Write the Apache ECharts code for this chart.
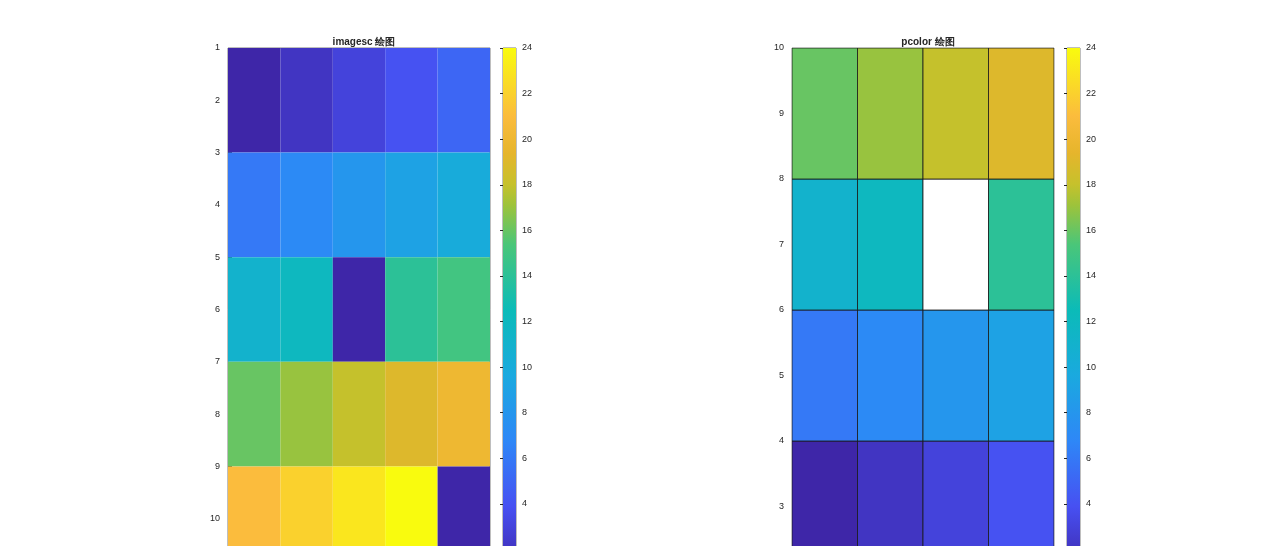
<!DOCTYPE html>
<html>
<head>
<meta charset="utf-8">
<script src="https://cdn.jsdelivr.net/npm/echarts@6/dist/echarts.min.js"></script>
<style>html,body{margin:0;padding:0;background:#fff;overflow:hidden}#main{width:1280px;height:640px}</style>
</head>
<body>
<div id="main"></div>
<script>
// matrix values, row by row (null = NaN)
var matRows = [
  [1, 2, 3, 4, 5],
  [6, 7, 8, 9, 10],
  [11, 12, null, 14, 15],
  [16, 17, 18, 19, 20],
  [21, 22, 23, 24, null]
];
var imgRowY = [1, 3, 5, 7, 9];      // top edge of each imagesc row
var pcRowY = [2, 4, 6, 8];          // bottom edge of each pcolor row
var cMin = 1, cMax = 24;

var parula = [
  [0.0, '#3e26a8'], [0.125, '#4750f2'], [0.25, '#2e87f7'], [0.375, '#1aa9df'],
  [0.5, '#0bbbb8'], [0.625, '#4ac679'], [0.7, '#9dc33b'], [0.74, '#c6c12c'],
  [0.8, '#e6b52c'], [0.87, '#fbbc3d'], [1.0, '#f9fb0e']
];
function hex(c){return [parseInt(c.substr(1,2),16),parseInt(c.substr(3,2),16),parseInt(c.substr(5,2),16)];}
function colorOf(v){
  var t = Math.max(0, Math.min(1, (v - cMin) / (cMax - cMin)));
  for (var i = 1; i < parula.length; i++) {
    if (t <= parula[i][0]) {
      var a = parula[i-1], b = parula[i], f = (t - a[0]) / (b[0] - a[0]);
      var ca = hex(a[1]), cb = hex(b[1]);
      return 'rgb(' + ca.map(function(x, k){return Math.round(x + (cb[k] - x) * f);}).join(',') + ')';
    }
  }
  return parula[parula.length-1][1];
}

var imgData = [], pcData = [];
matRows.forEach(function(row, r){
  row.forEach(function(v, c){
    imgData.push([c + 1, imgRowY[r], v]);
    if (r < 4 && c < 4) pcData.push([c + 1, pcRowY[r], v]);
  });
});

var txt = {color:'#262626', fontSize:9, fontFamily:'Liberation Sans'};
function valAxis(grid, opt){
  return Object.assign({type:'value', gridIndex:grid, splitLine:{show:false},
    axisLine:{show:false}, axisTick:{inside:true, length:4, lineStyle:{color:'#262626'}},
    axisLabel:Object.assign({margin:8}, txt)}, opt);
}
var gradStops = parula.map(function(p){return {offset:1 - p[0], color:p[1]};}).reverse();

var myChart = echarts.init(document.getElementById('main'));
var option = {
  animation:false,
  title:[
    {text:'imagesc 绘图', left:359, top:32, textAlign:'center', textStyle:{fontSize:10, fontWeight:'bold', color:'#262626', fontFamily:'Liberation Sans'}},
    {text:'pcolor 绘图', left:923, top:32, textAlign:'center', textStyle:{fontSize:10, fontWeight:'bold', color:'#262626', fontFamily:'Liberation Sans'}}
  ],
  grid:[
    {left:228, width:262, top:48, height:523, show:true, borderColor:'#262626', borderWidth:0.6, backgroundColor:'transparent'},
    {left:503, width:13, top:48, height:547, show:true, borderColor:'#262626', borderWidth:0.6},
    {left:792, width:262, top:48, height:524, show:true, borderColor:'#262626', borderWidth:0.6},
    {left:1067, width:13, top:48, height:547, show:true, borderColor:'#262626', borderWidth:0.6}
  ],
  xAxis:[
    valAxis(0, {min:0.5, max:5.5, axisLabel:{show:false}, axisTick:{show:false}}),
    valAxis(1, {min:0, max:1, axisLabel:{show:false}, axisTick:{show:false}}),
    valAxis(2, {min:1, max:5, axisLabel:{show:false}, axisTick:{show:false}}),
    valAxis(3, {min:0, max:1, axisLabel:{show:false}, axisTick:{show:false}})
  ],
  yAxis:[
    valAxis(0, {min:1, max:11, interval:1, inverse:true}),
    valAxis(1, {min:0, max:24, interval:2, position:'right', axisTick:{inside:true, length:3, lineStyle:{color:'#262626'}}, axisLabel:Object.assign({margin:6}, txt)}),
    valAxis(2, {min:2, max:10, interval:1}),
    valAxis(3, {min:0, max:24, interval:2, position:'right', axisTick:{inside:true, length:3, lineStyle:{color:'#262626'}}, axisLabel:Object.assign({margin:6}, txt)})
  ],
  series:[
    {type:'custom', xAxisIndex:0, yAxisIndex:0, data:imgData, clip:true,
      renderItem:function(params, api){
        var x = api.value(0), y = api.value(1), v = api.value(2);
        var p1 = api.coord([x - 0.5, y]), p2 = api.coord([x + 0.5, y + 2]);
        return {type:'rect', shape:{x:p1[0], y:p1[1], width:p2[0]-p1[0], height:p2[1]-p1[1]},
          style:{fill: isNaN(v) ? colorOf(cMin) : colorOf(v), stroke:null}};
      }},
    {type:'custom', xAxisIndex:2, yAxisIndex:2, data:pcData, clip:true,
      renderItem:function(params, api){
        var x = api.value(0), y = api.value(1), v = api.value(2);
        var p1 = api.coord([x, y + 2]), p2 = api.coord([x + 1, y]);
        return {type:'rect', shape:{x:p1[0], y:p1[1], width:p2[0]-p1[0], height:p2[1]-p1[1]},
          style:{fill: isNaN(v) ? '#ffffff' : colorOf(v), stroke:'#1a1a1a', lineWidth:0.8}};
      }},
    {type:'custom', xAxisIndex:1, yAxisIndex:1, data:[[cMin, cMax]],
      renderItem:function(params, api){
        var p1 = api.coord([0, api.value(1)]), p2 = api.coord([1, api.value(0)]);
        return {type:'rect', shape:{x:p1[0], y:p1[1], width:p2[0]-p1[0], height:p2[1]-p1[1]},
          style:{fill:new echarts.graphic.LinearGradient(0, 0, 0, 1, gradStops)}};
      }},
    {type:'custom', xAxisIndex:3, yAxisIndex:3, data:[[cMin, cMax]],
      renderItem:function(params, api){
        var p1 = api.coord([0, api.value(1)]), p2 = api.coord([1, api.value(0)]);
        return {type:'rect', shape:{x:p1[0], y:p1[1], width:p2[0]-p1[0], height:p2[1]-p1[1]},
          style:{fill:new echarts.graphic.LinearGradient(0, 0, 0, 1, gradStops)}};
      }}
  ]
};
myChart.setOption(option);
</script>
</body>
</html>
